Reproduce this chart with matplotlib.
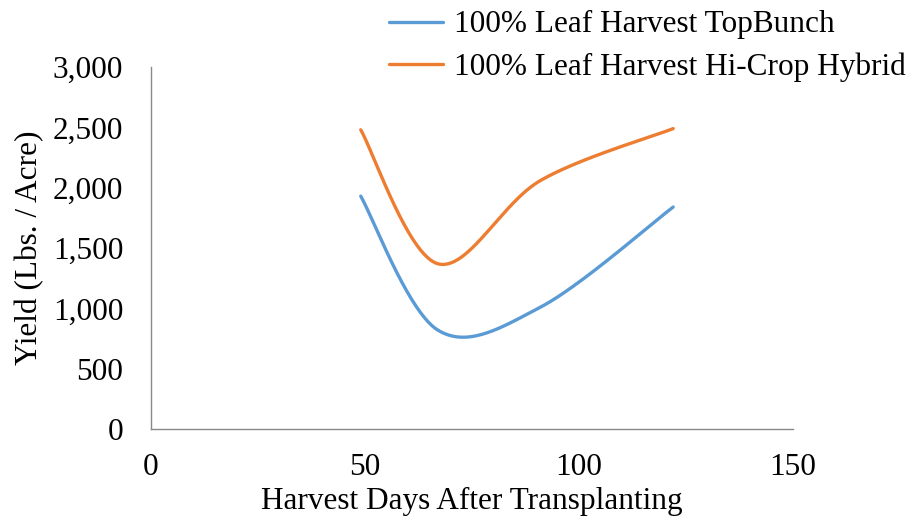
import numpy as np
import matplotlib.pyplot as plt

# データ
days = [49, 67, 91, 122]
topbunch = [1930, 820, 1010, 1840]
hicrop = [2480, 1370, 2060, 2490]
labels = ["100% Leaf Harvest TopBunch", "100% Leaf Harvest Hi-Crop Hybrid"]
colors = ["#5B9BD5", "#ED7D31"]

plt.rcParams["font.family"] = ["Liberation Serif", "DejaVu Serif"]


# Excel風の平滑線（Catmull-Rom -> Bezier）
def smooth(xs, ys, n=60):
    p = np.column_stack([xs, ys]).astype(float)
    p = np.vstack([p[0], p, p[-1]])
    out = []
    t = np.linspace(0, 1, n)[:, None]
    for i in range(1, len(p) - 2):
        p0, p3 = p[i], p[i + 1]
        c1 = p0 + (p[i + 1] - p[i - 1]) / 6
        c2 = p3 - (p[i + 2] - p[i]) / 6
        seg = ((1 - t) ** 3) * p0 + 3 * ((1 - t) ** 2) * t * c1 + 3 * (1 - t) * t ** 2 * c2 + t ** 3 * p3
        out.append(seg)
    seg = np.vstack(out)
    return seg[:, 0], seg[:, 1]


fig = plt.figure(figsize=(9.17, 5.2), dpi=100)
ax = fig.add_axes([0.1647, 0.175, 0.7001, 0.696])

for ys, lab, c in zip([topbunch, hicrop], labels, colors):
    sx, sy = smooth(days, ys)
    ax.plot(sx, sy, color=c, lw=2.4, label=lab, solid_capstyle="round")

ax.set_xlim(0, 150)
ax.set_ylim(0, 3000)
ax.set_xticks([0, 50, 100, 150])
ax.set_yticks(range(0, 3001, 500))
ax.set_yticklabels([f"{v:,}" for v in range(0, 3001, 500)])
ax.tick_params(length=0, labelsize=22.5)
ax.tick_params(axis="x", pad=17)
ax.tick_params(axis="y", pad=20)

for s in ["top", "right"]:
    ax.spines[s].set_visible(False)
for s in ["left", "bottom"]:
    ax.spines[s].set_color("#898989")
    ax.spines[s].set_linewidth(1)

ax.set_xlabel("Harvest Days After Transplanting", fontsize=22.5, labelpad=4)
ax.set_ylabel("Yield (Lbs. / Acre)", fontsize=22.5, labelpad=6)

ax.legend(loc="upper right", bbox_to_anchor=(1.005, 1.01), bbox_transform=fig.transFigure,
          frameon=False, fontsize=22.5, handlelength=1.75, handletextpad=0.35,
          labelspacing=0.42, borderaxespad=0.1)

plt.savefig("out.png", dpi=100)
